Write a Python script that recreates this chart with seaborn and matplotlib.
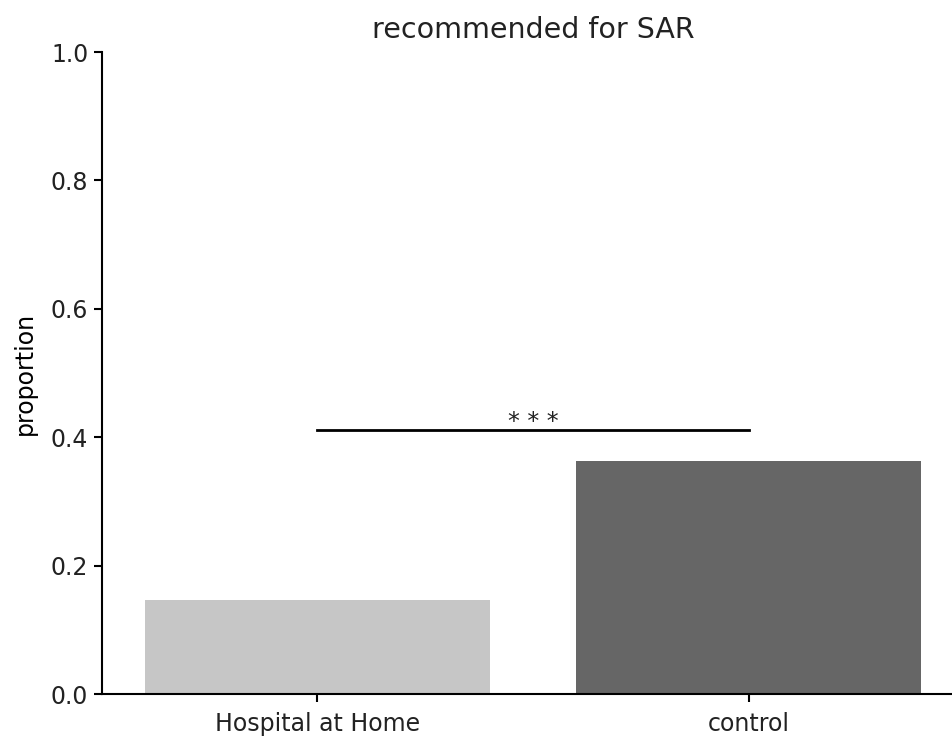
import matplotlib
matplotlib.use("Agg")
import matplotlib.pyplot as plt
import seaborn as sns
import pandas as pd

groups = ["Hospital at Home", "control"]
proportions = [0.146, 0.363]
bar_colors = ["#c6c6c6", "#666666"]
sig_label = "* * *"
sig_height = 0.411

df = pd.DataFrame({"group": groups, "proportion": proportions})

plt.rcParams["text.color"] = "#222222"
plt.rcParams["xtick.labelcolor"] = "#222222"
plt.rcParams["ytick.labelcolor"] = "#222222"

fig = plt.figure(figsize=(9.52, 7.36), dpi=100)
ax = fig.add_axes([101.5 / 952, 42 / 736, 863 / 952, 642 / 736])

sns.barplot(data=df, x="group", y="proportion", hue="group",
            palette=bar_colors, legend=False, ax=ax, width=0.8)

ax.set_xlim(-0.5, 1.5)
ax.set_ylim(0, 1.0)
ax.set_yticks([0.0, 0.2, 0.4, 0.6, 0.8, 1.0])
ax.set_xlabel("")
ax.set_ylabel("proportion", fontsize=17, labelpad=10)
ax.set_title("recommended for SAR", fontsize=20.5, pad=10)
ax.tick_params(labelsize=17, length=6, width=1.5)
ax.tick_params(axis="x", pad=7)
for side in ("left", "bottom"):
    ax.spines[side].set_linewidth(1.5)
sns.despine(ax=ax)

# significance bracket between the two groups
ax.plot([0, 1], [sig_height, sig_height], color="black", linewidth=2)
ax.text(0.5, sig_height - 0.006, sig_label, ha="center", va="bottom", fontsize=17)

fig.savefig("out.png", dpi=100)
